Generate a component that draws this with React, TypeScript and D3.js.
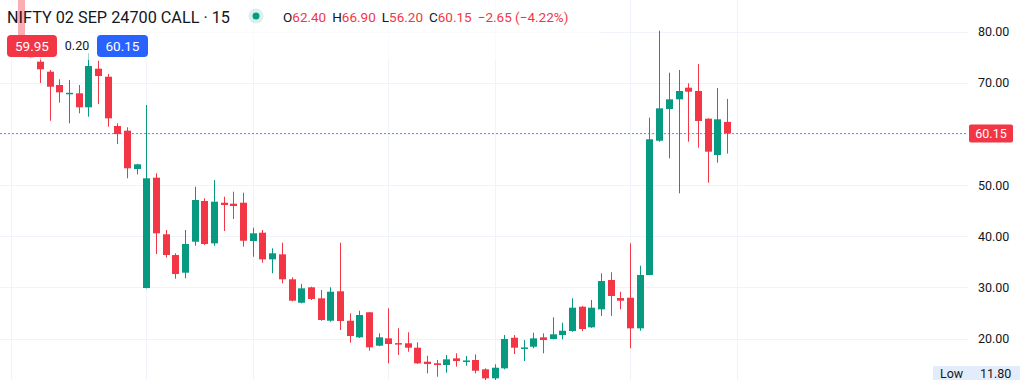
import React from "react";
import * as d3 from "d3";

// ---- data (15-minute candles) ----
const opens = [87.0, 76.5, 74.19, 72.23, 69.62, 67.95, 68.0, 65.26, 72.82, 71.25, 61.6, 60.68, 53.18, 29.88, 51.48, 40.4, 36.34, 32.88, 38.95, 46.92, 38.63, 46.58, 46.39, 46.58, 39.08, 40.71, 35.5, 36.48, 31.59, 27.0, 30.02, 27.86, 23.48, 29.24, 23.48, 20.23, 25.13, 18.59, 20.03, 19.1, 19.06, 18.2, 15.46, 15.14, 14.81, 16.12, 15.6, 15.79, 13.97, 12.2, 14.16, 20.15, 18.15, 18.39, 20.23, 19.9, 20.68, 21.46, 26.22, 22.19, 25.71, 31.45, 27.92, 27.98, 21.99, 32.43, 58.72, 64.93, 66.82, 69.1, 68.45, 63.03, 55.92, 62.4];
const highs = [88.0, 77.0, 74.9, 72.56, 70.74, 70.6, 69.62, 75.83, 74.38, 71.78, 62.13, 61.34, 54.2, 65.71, 52.34, 41.24, 36.68, 41.24, 49.71, 47.44, 51.03, 47.76, 48.74, 48.54, 41.69, 41.24, 37.65, 38.75, 31.98, 30.67, 30.14, 29.49, 30.02, 38.75, 24.93, 25.44, 25.2, 21.01, 25.91, 22.0, 21.21, 19.25, 16.63, 15.79, 16.77, 17.1, 16.57, 16.9, 14.16, 14.95, 20.68, 20.68, 19.7, 21.13, 21.01, 24.15, 23.09, 27.87, 26.36, 27.53, 32.76, 32.96, 29.16, 38.63, 34.25, 63.22, 80.25, 72.03, 72.56, 69.96, 73.74, 63.1, 69.04, 66.9];
const lows = [75.5, 74.8, 70.02, 62.63, 66.16, 62.13, 64.08, 63.42, 65.9, 61.46, 58.07, 51.36, 52.14, 29.8, 36.54, 35.81, 31.7, 31.78, 38.16, 38.3, 38.16, 41.04, 43.39, 37.97, 36.01, 34.84, 32.76, 30.8, 27.28, 26.89, 27.53, 23.48, 23.29, 21.66, 19.17, 20.1, 17.61, 18.5, 15.14, 16.77, 17.41, 15.0, 13.18, 12.52, 13.3, 14.48, 14.67, 13.18, 11.8, 11.85, 13.97, 16.96, 15.59, 18.08, 17.1, 19.85, 19.84, 21.33, 21.46, 22.1, 24.4, 24.4, 25.71, 18.08, 21.52, 32.4, 58.52, 55.27, 48.42, 58.52, 57.35, 50.5, 54.41, 56.2];
const closes = [76.5, 75.0, 72.7, 69.29, 68.19, 68.1, 65.26, 73.34, 71.39, 63.1, 60.03, 53.32, 54.1, 51.36, 40.59, 36.34, 32.62, 38.5, 47.11, 38.5, 46.78, 46.13, 45.94, 39.14, 40.59, 35.5, 36.68, 31.59, 27.4, 29.82, 27.73, 23.62, 29.16, 23.42, 20.49, 24.6, 18.27, 20.23, 18.92, 19.0, 18.2, 15.14, 15.0, 14.81, 15.92, 15.59, 15.7, 13.69, 12.2, 14.28, 19.9, 18.2, 18.25, 20.03, 19.7, 20.82, 21.52, 26.03, 21.86, 26.03, 31.25, 28.32, 27.4, 21.99, 32.43, 59.0, 65.06, 66.82, 68.45, 68.31, 62.58, 56.57, 62.91, 60.15];

const priceTicks = [20, 30, 40, 50, 60, 70, 80];
const timeGridIdx = [-1, 13, 24, 38, 49, 63, 74];

const title = "NIFTY 02 SEP 24700 CALL · 15";
const ohlcLabels = ["O", "H", "L", "C"];
const ohlcValues = ["62.40", "66.90", "56.20", "60.15"];
const changeText = "−2.65 (−4.22%)";
const bidText = "59.95";
const spreadText = "0.20";
const askText = "60.15";
const lastPrice = 60.15;
const lowLabel = "Low";
const lowValue = "11.80";

const UP = "#089981";
const DOWN = "#f23645";
const FONT = "Roboto, 'Liberation Sans', sans-serif";

export default function App() {
  const W = 1024;
  const H = 380;
  const plotRight = 968;

  const x = d3.scaleLinear().domain([0, opens.length - 1]).range([20.6, 726.9]);
  const y = d3.scaleLinear().domain([20, 80]).range([338.5, 32]);
  const bodyW = 7;

  const candles = opens.map((o, i) => ({
    o,
    h: highs[i],
    l: lows[i],
    c: closes[i],
    i,
  }));

  const lastY = y(lastPrice);
  // the last-price badge hides any tick label it sits on
  const visibleTicks = priceTicks.filter((t) => Math.abs(y(t) - lastY) > 14);

  return (
    <svg
      width={W}
      height={H}
      style={{ position: "fixed", left: 0, top: 0, background: "#fff" }}
      fontFamily={FONT}
    >
      <rect x={0} y={0} width={W} height={H} fill="#fff" />
      {/* grid */}
      {priceTicks.map((t) => (
        <line key={"h" + t} x1={0} x2={plotRight} y1={Math.round(y(t)) + 0.5} y2={Math.round(y(t)) + 0.5} stroke="#f0f3fa" strokeWidth={1} />
      ))}
      {timeGridIdx.map((g) => (
        <line key={"v" + g} x1={Math.round(x(g)) + 0.5} x2={Math.round(x(g)) + 0.5} y1={0} y2={H} stroke="#f0f3fa" strokeWidth={1} />
      ))}

      {/* candles */}
      {candles.map((d) => {
        const up = d.c >= d.o;
        const col = up ? UP : DOWN;
        const cx = Math.round(x(d.i));
        const top = y(Math.max(d.o, d.c));
        const bot = y(Math.min(d.o, d.c));
        return (
          <g key={d.i}>
            <line x1={cx + 0.5} x2={cx + 0.5} y1={y(d.h)} y2={y(d.l)} stroke={col} strokeWidth={1} />
            <rect x={cx - 3} y={top} width={bodyW} height={Math.max(1.5, bot - top)} fill={col} />
          </g>
        );
      })}

      {/* last price line */}
      <line x1={0} x2={plotRight} y1={Math.round(lastY) + 0.5} y2={Math.round(lastY) + 0.5} stroke={DOWN} strokeOpacity={0.75} strokeWidth={1} strokeDasharray="2 2" />

      {/* price axis */}
      {visibleTicks.map((t) => (
        <text key={"t" + t} x={978} y={y(t)} dy="0.35em" fontSize={12.5} fill="#131722">
          {t.toFixed(2)}
        </text>
      ))}
      <rect x={969} y={lastY - 9} width={44} height={18} rx={2} fill={DOWN} />
      <text x={991} y={lastY} dy="0.35em" textAnchor="middle" fontSize={12.5} fill="#fff">
        {lastPrice.toFixed(2)}
      </text>
      <rect x={933} y={366} width={87} height={16} fill="#e3ecfa" />
      <text x={940} y={374} dy="0.35em" fontSize={12.5} fill="#131722">{lowLabel}</text>
      <text x={980} y={374} dy="0.35em" fontSize={12.5} fill="#131722">{lowValue}</text>

      {/* legend overlay */}
      <rect x={0} y={0} width={600} height={60} fill="#fff" opacity={0.6} />
      <text x={7} y={17} dy="0.35em" fontSize={17} fill="#131722" textLength={223} lengthAdjust="spacingAndGlyphs">
        {title}
      </text>
      <circle cx={256} cy={16} r={7.5} fill={UP} opacity={0.15} />
      <circle cx={256} cy={16} r={3.5} fill={UP} />
      <text x={283} y={17} dy="0.35em" fontSize={13.5}>
        {ohlcLabels.map((lab, k) => (
          <React.Fragment key={lab}>
            <tspan fill="#131722" dx={k === 0 ? 0 : 6}>{lab}</tspan>
            <tspan fill={DOWN}>{ohlcValues[k]}</tspan>
          </React.Fragment>
        ))}
        <tspan fill={DOWN} dx={6}>{changeText}</tspan>
      </text>

      {/* bid / ask labels */}
      <rect x={7} y={35} width={50} height={22} rx={4} fill={DOWN} />
      <text x={32} y={46} dy="0.35em" textAnchor="middle" fontSize={13.5} fill="#fff">{bidText}</text>
      <text x={77} y={46} dy="0.35em" textAnchor="middle" fontSize={12.5} fill="#131722">{spreadText}</text>
      <rect x={97} y={35} width={51} height={22} rx={4} fill="#2962ff" />
      <text x={122.5} y={46} dy="0.35em" textAnchor="middle" fontSize={13.5} fill="#fff">{askText}</text>
    </svg>
  );
}
